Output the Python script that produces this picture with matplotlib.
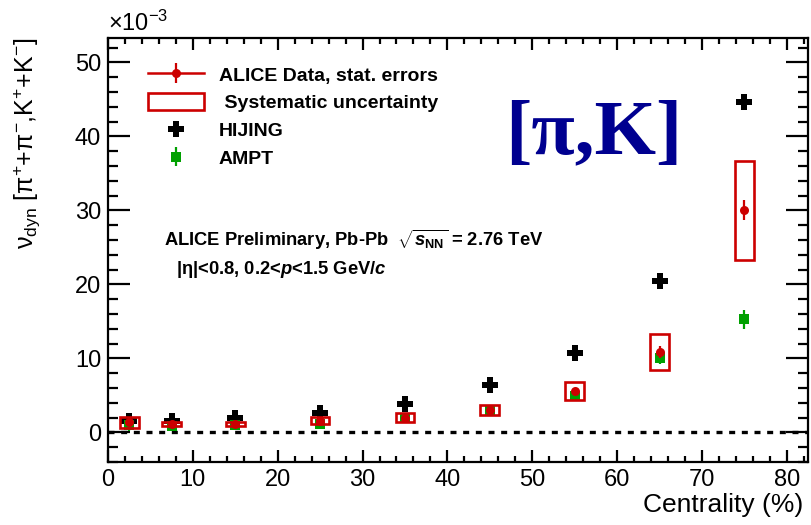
import numpy as np
import matplotlib
matplotlib.use("Agg")
import matplotlib.pyplot as plt
from matplotlib.patches import Rectangle, Patch
from matplotlib.lines import Line2D
from matplotlib.ticker import MultipleLocator

plt.rcParams['font.family'] = ['Liberation Sans', 'DejaVu Sans']
plt.rcParams['mathtext.fontset'] = 'custom'
plt.rcParams['mathtext.rm'] = 'Liberation Sans'
plt.rcParams['mathtext.it'] = 'Liberation Sans:italic:bold'
plt.rcParams['mathtext.bf'] = 'Liberation Sans:bold'

# nu_dyn in units of 1e-3 versus centrality bin centre
centrality = [2.5, 7.5, 15, 25, 35, 45, 55, 65, 75]
box_halfwidth = [1.1, 1.1, 1.1, 1.1, 1.1, 1.1, 1.1, 1.1, 1.1]

alice = [1.35, 1.1, 1.1, 1.6, 2.0, 3.0, 5.6, 10.9, 30.0]
alice_stat = [0.2, 0.2, 0.2, 0.2, 0.2, 0.25, 0.35, 0.8, 1.35]
alice_sys = [0.7, 0.3, 0.3, 0.5, 0.6, 0.7, 1.25, 2.45, 6.7]

hijing = [1.5, 1.6, 1.9, 2.6, 3.9, 6.4, 10.7, 20.5, 44.6]

ampt = [0.95, 0.85, 1.0, 1.2, 2.0, 3.0, 4.9, 10.0, 15.3]
ampt_err = [0.8, 0.6, 0.6, 0.6, 0.5, 0.5, 0.5, 0.8, 1.3]

red = '#cc0000'
green = '#00a000'

fig = plt.figure(figsize=(8.11, 5.25), dpi=100)
ax = fig.add_axes([0.1332, 0.12, 0.8631, 0.8076])

ax.set_xlim(0, 82.5)
ax.set_ylim(-4, 53.3)

ax.axhline(0, color='black', lw=2.4, ls=(0, (1.8, 2.0)), zorder=1)

for x, y, s, w in zip(centrality, alice, alice_sys, box_halfwidth):
    ax.add_patch(Rectangle((x - w, y - s), 2 * w, 2 * s, fill=False,
                           edgecolor=red, lw=1.9, zorder=4))

ax.plot(centrality, hijing, ls='none', marker='P', ms=12, color='black',
        mew=0, zorder=2)
h_ampt = ax.errorbar(centrality, ampt, yerr=ampt_err, fmt='s', ms=7.5,
                     color=green, ecolor=green, elinewidth=1.6, capsize=2.5,
                     capthick=1.6, mew=0, zorder=3)
h_alice = ax.errorbar(centrality, alice, yerr=alice_stat, fmt='o', ms=6.5,
                      color=red, ecolor=red, elinewidth=1.6, capsize=2.5,
                      capthick=1.6, mew=0, zorder=5)

# frame and ticks
for sp in ax.spines.values():
    sp.set_linewidth(1.6)
ax.xaxis.set_major_locator(MultipleLocator(10))
ax.xaxis.set_minor_locator(MultipleLocator(2))
ax.yaxis.set_major_locator(MultipleLocator(10))
ax.yaxis.set_minor_locator(MultipleLocator(2))
ax.tick_params(which='both', direction='in', top=True, right=True,
               width=1.6, labelsize=17)
ax.tick_params(axis='x', which='major', length=8.5, pad=5)
ax.tick_params(axis='x', which='minor', length=4.3)
ax.tick_params(axis='y', which='major', length=15.5, pad=5)
ax.tick_params(axis='y', which='minor', length=7.5)

ax.text(0.0, 1.005, '×10$^{-3}$', transform=ax.transAxes, fontsize=17,
        ha='left', va='bottom')

ax.set_xlabel('Centrality (%)', fontsize=19, loc='right')
ax.xaxis.set_label_coords(0.993, -0.072)
ax.set_ylabel(r'ν$_{\rm dyn}$ [π$^{+}$+π$^{-}$,K$^{+}$+K$^{-}$]',
              fontsize=18, loc='top')
ax.yaxis.set_label_coords(-0.095, 1.0)

ax.text(0.08, 0.524, r'ALICE Preliminary, Pb-Pb  $\sqrt{s_{\mathbf{NN}}}$ = 2.76 TeV',
        transform=ax.transAxes, fontsize=13.2, fontweight='bold', va='center')
ax.text(0.097, 0.455, r'|η|<0.8, 0.2<$p$<1.5 GeV/$c$',
        transform=ax.transAxes, fontsize=13.2, fontweight='bold', va='center')

ax.text(0.567, 0.772, '[π,K]', transform=ax.transAxes, fontsize=57,
        fontweight='bold', family='Liberation Serif', color='#000090',
        ha='left', va='center')

# legend
alice_line = Line2D([], [], color=red, lw=1.8)
sys_box = Patch(facecolor='none', edgecolor=red, lw=1.9)
hijing_marker = Line2D([], [], ls='none', marker='P', ms=12, color='black', mew=0)
leg = ax.legend([(alice_line, h_alice), sys_box, hijing_marker, h_ampt],
                ['ALICE Data, stat. errors', ' Systematic uncertainty', 'HIJING', 'AMPT'],
                loc='upper left', bbox_to_anchor=(0.057, 0.936), frameon=False,
                borderpad=0, borderaxespad=0, handlelength=2.9, handleheight=1.0,
                handletextpad=0.75, labelspacing=0.44,
                prop={'size': 14, 'weight': 'bold'})

fig.savefig('out.png', dpi=100)
